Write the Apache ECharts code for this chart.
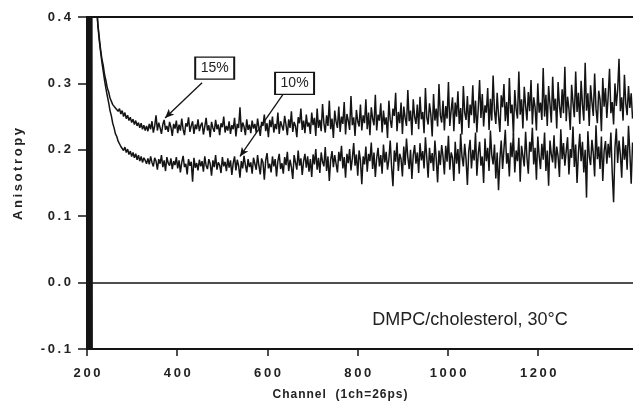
<!DOCTYPE html>
<html>
<head>
<meta charset="utf-8">
<script src="https://cdn.jsdelivr.net/npm/echarts@6/dist/echarts.min.js"></script>
<style>html,body{margin:0;padding:0;background:#fff;}#c{width:633px;height:402px;}</style>
</head>
<body>
<div id="c"></div>
<script>
// Channel axis of the sampled curves
const channelStart = 215;
const channelStep = 3;
// 15% cholesterol anisotropy (upper trace), one value per sampled channel
const upper15 = [
.55,.47,.42,.39,.37,.352,.337,.327,.313,.304,.293,.287,.278,.276,.268,.270,.263,.266,.258,.262,
.254,.259,.250,.256,.247,.252,.244,.249,.241,.246,.238,.244,.236,.241,.233,.240,.231,.237,.229,.236,
.228,.239,.231,.243,.226,.236,.252,.229,.241,.233,.224,.238,.245,.230,.236,.227,.242,.234,.221,.239,
.232,.244,.225,.238,.229,.247,.231,.222,.240,.235,.249,.227,.236,.243,.224,.238,.231,.246,.228,.237,
.241,.223,.235,.248,.229,.237,.219,.242,.233,.227,.245,.231,.238,.222,.240,.234,.250,.226,.236,.229,
.243,.224,.237,.231,.248,.220,.239,.233,.264,.227,.241,.235,.222,.246,.230,.238,.225,.244,.232,.239,
.226,.247,.233,.221,.242,.236,.253,.228,.240,.219,.245,.234,.250,.226,.239,.231,.256,.224,.243,.236,
.229,.251,.238,.222,.246,.233,.258,.227,.242,.236,.219,.249,.240,.262,.230,.244,.225,.253,.235,.241,
.224,.256,.237,.248,.221,.262,.233,.245,.228,.269,.240,.226,.252,.236,.274,.231,.247,.218,.259,.242,
.233,.265,.227,.250,.239,.272,.223,.254,.244,.230,.281,.237,.249,.221,.260,.243,.235,.268,.229,.252,
.240,.276,.231,.256,.222,.264,.247,.237,.283,.229,.253,.244,.270,.226,.259,.238,.249,.218,.274,.245,
.233,.262,.251,.286,.228,.257,.240,.271,.224,.265,.248,.236,.290,.243,.259,.222,.276,.250,.239,.268,
.231,.280,.246,.257,.225,.293,.249,.238,.270,.253,.220,.284,.244,.262,.235,.299,.252,.241,.274,.229,
.266,.247,.302,.236,.259,.279,.228,.271,.250,.288,.239,.263,.223,.296,.256,.245,.281,.233,.268,.252,
.297,.240,.274,.226,.262,.305,.248,.284,.235,.267,.256,.293,.230,.277,.244,.312,.259,.239,.286,.251,
.227,.282,.264,.299,.243,.272,.236,.308,.255,.268,.222,.290,.261,.247,.318,.253,.276,.232,.295,.266,
.244,.287,.258,.305,.238,.279,.264,.229,.300,.256,.271,.245,.323,.250,.283,.236,.296,.269,.241,.310,
.259,.277,.232,.302,.266,.248,.291,.255,.325,.243,.280,.262,.230,.298,.271,.249,.318,.257,.286,.239,
.304,.268,.244,.331,.259,.285,.236,.297,.272,.251,.315,.262,.240,.289,.276,.228,.308,.265,.293,.248,
.281,.322,.255,.272,.238,.300,.266,.290,.337,.258,.279,.244,.313,.270,.252,.296,.263,.285,.247
];
// 10% cholesterol anisotropy (lower trace)
const lower10 = [
.55,.47,.42,.388,.366,.348,.332,.318,.304,.292,.281,.271,.259,.251,.240,.233,.224,.220,.213,.211,
.205,.208,.199,.204,.196,.201,.193,.198,.190,.196,.188,.194,.185,.192,.183,.190,.181,.188,.184,.179,
.187,.178,.190,.181,.175,.188,.183,.170,.186,.179,.192,.174,.184,.168,.189,.180,.176,.187,.171,.183,
.177,.189,.172,.184,.166,.181,.191,.174,.179,.163,.186,.176,.182,.152,.188,.173,.180,.169,.185,.175,
.183,.167,.190,.176,.171,.186,.179,.161,.184,.174,.192,.170,.181,.177,.165,.189,.175,.182,.168,.187,
.173,.184,.162,.180,.190,.169,.185,.176,.158,.183,.172,.191,.177,.166,.186,.174,.181,.164,.188,.179,
.170,.192,.176,.163,.187,.181,.155,.184,.195,.172,.179,.166,.190,.175,.186,.160,.183,.194,.171,.180,
.164,.189,.177,.197,.168,.185,.174,.156,.192,.181,.170,.199,.176,.187,.162,.183,.194,.173,.190,.167,
.186,.159,.193,.178,.201,.170,.188,.165,.196,.182,.175,.204,.168,.190,.153,.185,.198,.174,.192,.179,
.166,.197,.183,.206,.172,.189,.158,.194,.180,.201,.169,.187,.210,.176,.193,.161,.199,.184,.148,.190,
.178,.205,.167,.194,.183,.211,.171,.196,.159,.188,.203,.175,.192,.164,.208,.181,.197,.170,.186,.214,
.174,.145,.199,.182,.211,.168,.194,.186,.160,.205,.177,.217,.189,.171,.200,.156,.192,.207,.179,.196,
.165,.210,.184,.198,.172,.219,.188,.158,.203,.180,.195,.168,.214,.186,.151,.199,.177,.207,.190,.163,
.206,.182,.221,.170,.196,.188,.153,.212,.179,.201,.164,.224,.190,.175,.209,.186,.147,.198,.215,.172,
.200,.184,.226,.161,.194,.212,.176,.190,.150,.217,.183,.203,.168,.229,.192,.178,.208,.157,.196,.139,
.186,.214,.171,.201,.230,.179,.195,.160,.211,.189,.224,.166,.199,.183,.218,.152,.206,.191,.175,.227,
.188,.164,.212,.197,.233,.178,.203,.155,.220,.191,.171,.209,.185,.226,.168,.199,.146,.214,.193,.181,
.222,.172,.205,.190,.159,.231,.186,.210,.176,.198,.219,.163,.201,.188,.235,.174,.208,.150,.195,.224,
.183,.212,.166,.200,.128,.228,.191,.177,.215,.195,.160,.237,.186,.205,.171,.220,.153,.198,.213,.179,
.209,.188,.226,.165,.121,.203,.232,.180,.214,.193,.158,.220,.185,.207,.170,.236,.196,.149,.211
];
// initial excitation spike (clipped by the plot frame)
const spikeChannels = [201,202,203,204,205,206,207,208,209,210,211];
const spikeValues = [-0.2,0.6,-0.2,0.6,-0.2,0.6,-0.2,0.6,-0.2,0.6,-0.2];
// tick labels
const xTicks = [200,400,600,800,1000,1200];

const sp = s => String(s).split('').join('\u2009');
const hs = s => String(s).split('').join('\u200A');
const ink = '#141414';

const chart = echarts.init(document.getElementById('c'), null, {renderer:'canvas'});
const toPairs = arr => arr.map((v,i)=>[channelStart + channelStep*i, v]);

const tickFont = {fontFamily:'"Liberation Sans", Arial, sans-serif', fontWeight:'bold', fontSize:13, color:'#222'};

chart.setOption({
  animation:false,
  backgroundColor:'#fff',
  grid:{left:87, right:0, top:17, bottom:53, containLabel:false},
  xAxis:[{
    type:'value', min:200, max:1410, interval:200,
    axisLine:{show:true, onZero:false, lineStyle:{color:ink, width:2}},
    axisTick:{show:true, inside:false, length:7, lineStyle:{color:ink, width:1.5}, customValues:xTicks},
    axisLabel:Object.assign({margin:18, customValues:xTicks, formatter:v=>sp(v)}, tickFont),
    splitLine:{show:false}
  },{
    type:'value', position:'top', min:200, max:1410,
    axisLine:{show:true, onZero:false, lineStyle:{color:ink, width:2}},
    axisTick:{show:false}, axisLabel:{show:false}, splitLine:{show:false}
  }],
  yAxis:{
    type:'value', min:-0.1, max:0.4, interval:0.1,
    axisLine:{show:true, onZero:false, lineStyle:{color:ink, width:2}},
    axisTick:{show:true, inside:false, length:9, lineStyle:{color:ink, width:1.5}},
    axisLabel:Object.assign({margin:16, formatter:v=>sp(v.toFixed(1))}, tickFont),
    splitLine:{show:false}
  },
  series:[{
    type:'line', name:'spike', xAxisIndex:0,
    data:spikeChannels.map((c,i)=>[c, spikeValues[i]]),
    showSymbol:false, symbol:'none', lineStyle:{color:ink, width:2}, clip:true,
    markLine:{silent:true, symbol:'none', label:{show:false},
      lineStyle:{color:ink, width:1.5, type:'solid'}, data:[{yAxis:0}]}
  },{
    type:'line', name:'10%', data:toPairs(lower10),
    showSymbol:false, symbol:'none', lineStyle:{color:ink, width:1.5}, clip:true
  },{
    type:'line', name:'15%', data:toPairs(upper15),
    showSymbol:false, symbol:'none', lineStyle:{color:ink, width:1.5}, clip:true,
    markLine:{silent:true, symbol:['none','arrow'], symbolSize:[6,9], label:{show:false},
      lineStyle:{color:ink, width:1.3, type:'solid'},
      data:[
        [{coord:[455,0.301]},{coord:[373,0.248]}],
        [{coord:[639,0.288]},{coord:[539,0.19]}]
      ]},
    markPoint:{silent:true, symbol:'rect', symbolSize:[39,22],
      itemStyle:{color:'#fff', borderColor:ink, borderWidth:1.5},
      label:{show:true, position:'inside', color:'#222', fontSize:14, fontFamily:'"Liberation Sans", Arial, sans-serif'},
      data:[
        {coord:[483,0.323], value:'15%', label:{formatter:'15%'}},
        {coord:[660,0.300], value:'10%', label:{formatter:'10%'}}
      ]}
  }],
  graphic:[
    {type:'text', x:18, y:174, rotation:Math.PI/2,
      style:{text:sp('Anisotropy'), font:'bold 13px "Liberation Sans", Arial, sans-serif', fill:'#222', align:'center', verticalAlign:'middle'}},
    {type:'text', x:340, y:395,
      style:{text:hs('Channel  (1ch=26ps)'), font:'bold 12px "Liberation Sans", Arial, sans-serif', fill:'#222', align:'center', verticalAlign:'middle'}},
    {type:'text', x:470, y:320,
      style:{text:'DMPC/cholesterol, 30°C', font:'18px "Liberation Sans", Arial, sans-serif', fill:'#222', align:'center', verticalAlign:'middle'}}
  ]
});
</script>
</body>
</html>
